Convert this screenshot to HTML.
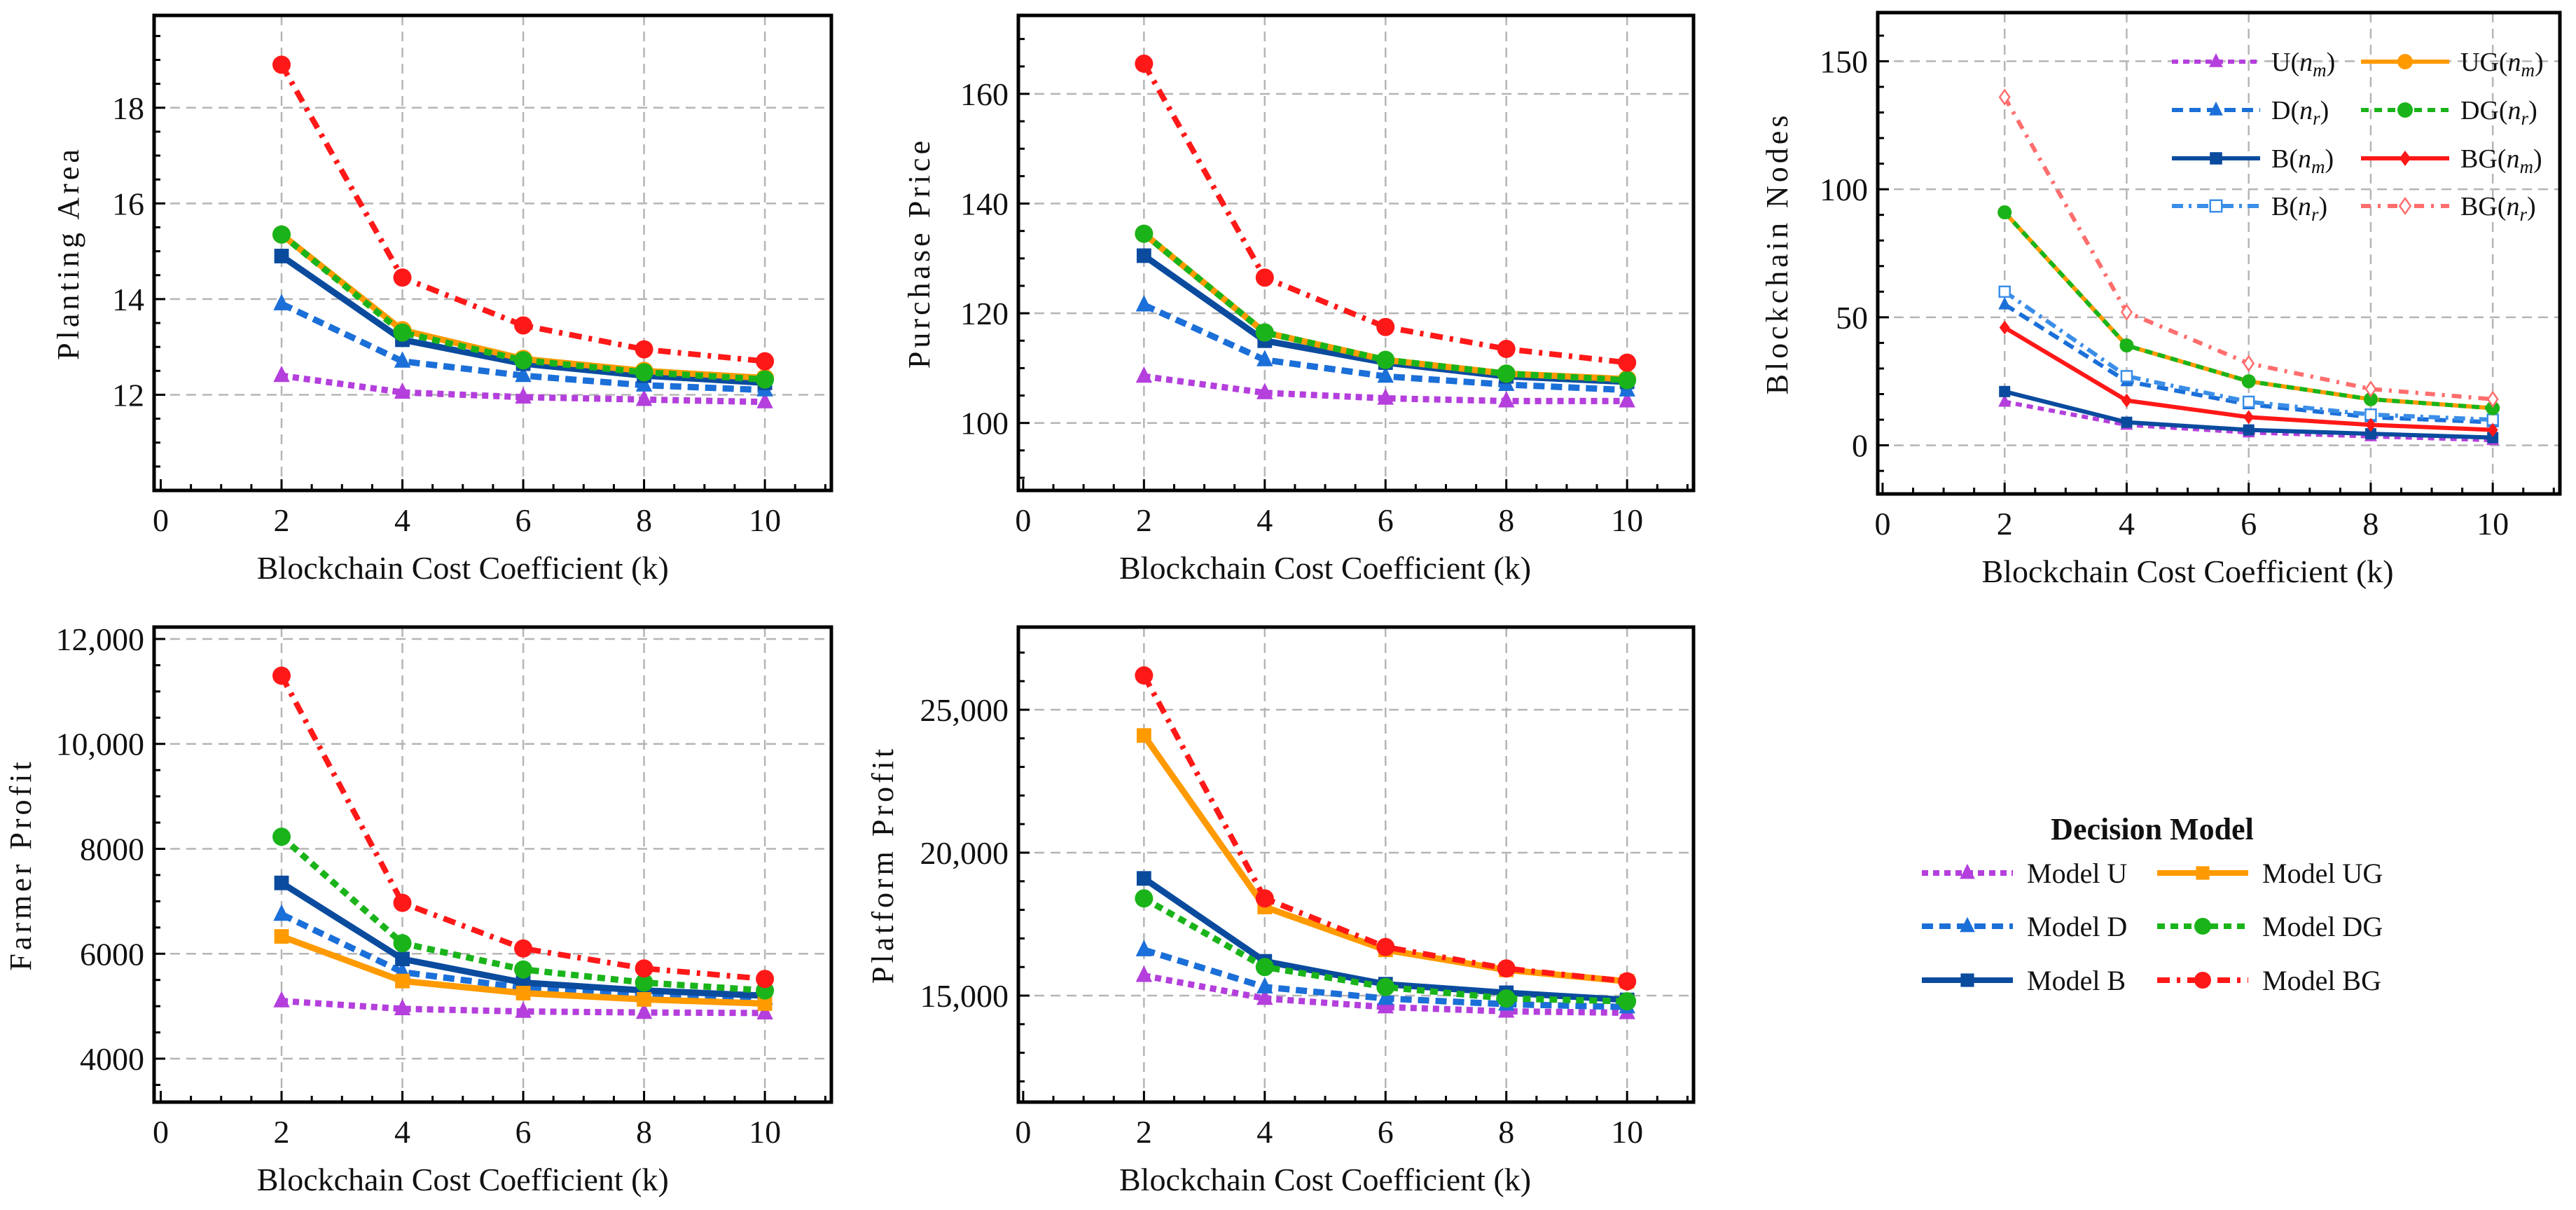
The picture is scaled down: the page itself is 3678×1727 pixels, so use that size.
<!DOCTYPE html>
<html><head><meta charset="utf-8"><style>
html,body{margin:0;padding:0;background:#fff;}
svg{display:block;font-family:"Liberation Serif",serif;}
</style></head><body>
<svg id="chart" width="3678" height="1727" viewBox="0 0 3678 1727" xmlns="http://www.w3.org/2000/svg"></svg>
<script>
const kValues=[2,4,6,8,10];
const xTickLabels=[0,2,4,6,8,10];
// Planting area
const areaU=[12.4,12.05,11.95,11.9,11.85];
const areaD=[13.9,12.7,12.4,12.2,12.1];
const areaB=[14.9,13.15,12.65,12.4,12.25];
const areaUG=[15.35,13.35,12.75,12.5,12.35];
const areaDG=[15.35,13.3,12.72,12.47,12.32];
const areaBG=[18.9,14.45,13.45,12.95,12.7];
const areaTicks=[12,14,16,18];
// Purchase price
const priceU=[108.5,105.5,104.5,104,104];
const priceD=[121.5,111.5,108.5,107,106];
const priceB=[130.5,115,111,108.5,107.5];
const priceUG=[134.5,116.5,111.5,109,108];
const priceDG=[134.5,116.5,111.5,109,107.8];
const priceBG=[165.5,126.5,117.5,113.5,111];
const priceTicks=[100,120,140,160];
// Blockchain nodes
const nodesUm=[17,8,5,3.5,2];
const nodesDr=[55,25,16,11,9];
const nodesBm=[21,9,6,4.5,3];
const nodesBr=[60,27,17,12,10];
const nodesUGm=[91,39,25,18,14.5];
const nodesDGr=[91,39,25,18,14.5];
const nodesBGm=[46,17.5,11,8,6];
const nodesBGr=[136,52,32,22,18];
const nodeTicks=[0,50,100,150];
// Farmer profit
const farmU=[5100,4950,4900,4880,4870];
const farmD=[6750,5650,5350,5200,5150];
const farmB=[7350,5900,5450,5300,5200];
const farmUG=[6330,5480,5250,5130,5050];
const farmDG=[8230,6200,5700,5450,5300];
const farmBG=[11300,6970,6100,5720,5520];
const farmTicks=[4000,6000,8000,10000,12000];
const farmTickLabels=["4000","6000","8000","10,000","12,000"];
// Platform profit
const platU=[15700,14900,14600,14450,14400];
const platD=[16600,15300,14900,14700,14600];
const platB=[19100,16200,15400,15100,14850];
const platUG=[24100,18100,16600,15900,15500];
const platDG=[18400,16000,15300,14900,14800];
const platBG=[26200,18400,16700,15950,15500];
const platTicks=[15000,20000,25000];
const platTickLabels=["15,000","20,000","25,000"];

const NS="http://www.w3.org/2000/svg";
const svg=document.getElementById('chart');
function mk(tag,attrs,parent){const e=document.createElementNS(NS,tag);for(const k in attrs)e.setAttribute(k,attrs[k]);(parent||svg).appendChild(e);return e;}

const ST={
 U:{c:'#b43fdc',w:9,d:'9 7',m:'tri'},
 D:{c:'#1b6fd8',w:9,d:'16 9',m:'tri'},
 B:{c:'#0a4b9e',w:9,d:'',m:'sq'},
 UG:{c:'#ff9a00',w:9,d:'',m:'circ'},
 DG:{c:'#1ab41a',w:9,d:'11 8',m:'circ'},
 BG:{c:'#ff1818',w:8,d:'18 10 5 10',m:'circ'},
 Br:{c:'#3b8ee8',w:6,d:'16 8 4 8',m:'osq'},
 BGm:{c:'#ff1818',w:6,d:'',m:'dia'},
 BGr:{c:'#ff6e6e',w:5,d:'14 10 4 10',m:'odia'}
};

function marker(g,type,x,y,s,c){
 let e;
 if(type==='circ')e=mk('circle',{cx:x,cy:y,r:s,fill:c},g);
 else if(type==='tri')e=mk('polygon',{points:`${x},${y-s*1.1} ${x-s*0.9},${y+s*0.7} ${x+s*0.9},${y+s*0.7}`,fill:c},g);
 else if(type==='sq')e=mk('rect',{x:x-s*0.8,y:y-s*0.8,width:s*1.6,height:s*1.6,fill:c},g);
 else if(type==='osq')e=mk('rect',{x:x-s*0.75,y:y-s*0.75,width:s*1.5,height:s*1.5,fill:'#fff',stroke:c,'stroke-width':2.5},g);
 else if(type==='dia')e=mk('polygon',{points:`${x},${y-s} ${x+s*0.75},${y} ${x},${y+s} ${x-s*0.75},${y}`,fill:c},g);
 else if(type==='odia')e=mk('polygon',{points:`${x},${y-s} ${x+s*0.7},${y} ${x},${y+s} ${x-s*0.7},${y}`,fill:'#fff',stroke:c,'stroke-width':2.5},g);
 return e;
}

function panel(p){
 const g=mk('g',{});
 
 
 const X=v=>p.l+(v-p.xmin)/(p.xmax-p.xmin)*(p.r-p.l);
 const Y=v=>p.b-(v-p.ymin)/(p.ymax-p.ymin)*(p.b-p.t);
 const grid=mk('g',{},g);
 
 
 kValues.forEach(k=>mk('line',{x1:X(k),x2:X(k),y1:p.t,y2:p.b,stroke:'#b5b5b5','stroke-width':2.5,'stroke-dasharray':'14 9'},grid));
 p.yticks.forEach(v=>mk('line',{x1:p.l,x2:p.r,y1:Y(v),y2:Y(v),stroke:'#b5b5b5','stroke-width':2.5,'stroke-dasharray':'14 9'},grid));
 for(let v=0;v<=p.xmax;v+=0.5){const big=(v%2===0);mk('line',{x1:X(v),x2:X(v),y1:p.b,y2:p.b-(big?16:9),stroke:'#000','stroke-width':3},g);}
 const st=p.yminor;let v0=Math.ceil(p.ymin/st)*st;
 for(let v=v0;v<=p.ymax;v+=st){const big=p.yticks.some(t=>Math.abs(t-v)<1e-6);mk('line',{x1:p.l,x2:p.l+(big?16:9),y1:Y(v),y2:Y(v),stroke:'#000','stroke-width':3},g);}
 const fr=mk('rect',{x:p.l,y:p.t,width:p.r-p.l,height:p.b-p.t,fill:'none',stroke:'#000','stroke-width':5},g);
 
 
 xTickLabels.forEach(v=>{const t=mk('text',{x:X(v),y:p.b+58,'font-size':46,'text-anchor':'middle',fill:'#111'},g);t.textContent=v;
  
  });
 p.yticks.forEach((v,i)=>{const t=mk('text',{x:p.l-14,y:Y(v)+16,'font-size':46,'text-anchor':'end',fill:'#111'},g);t.textContent=p.ylabels?p.ylabels[i]:v;
  
  });
 const xt=mk('text',{x:(X(0)+X(10))/2,y:p.b+126,'font-size':46,'text-anchor':'middle',fill:'#111'},g);
 xt.textContent='Blockchain Cost Coefficient (k)';
 
 
 const yc=(p.t+p.b)/2;
 const yt=mk('text',{x:p.ylx,y:yc,'font-size':44,'text-anchor':'middle','letter-spacing':5,fill:'#111',transform:`rotate(-90 ${p.ylx} ${yc})`},g);
 yt.textContent=p.ytitle;
 
 
 p.series.forEach(s=>{
  const sg=mk('g',{},g);
  
  
  const sty=ST[s.st];
  const pts=kValues.map((k,i)=>X(k)+','+Y(s.v[i])).join(' ');
  const pl=mk('polyline',{points:pts,fill:'none',stroke:sty.c,'stroke-width':(p.lw||sty.w),'stroke-dasharray':sty.d,'stroke-linejoin':'round'},sg);
  
  
  kValues.forEach((k,i)=>{const m=marker(sg,s.m||sty.m,X(k),Y(s.v[i]),p.ms,sty.c);
   
   });
 });
 return {X,Y,g};
}

const xmin=-0.11,xmax=11.1;
panel({name:'planting-area-chart',l:220,r:1187,t:22,b:700,xmin,xmax,ymin:10,ymax:19.93,yticks:areaTicks,yminor:0.5,ytitle:'Planting Area',ylx:112,ms:13,
 series:[{id:'U',st:'U',v:areaU},{id:'D',st:'D',v:areaD},{id:'B',st:'B',v:areaB},{id:'UG',st:'UG',v:areaUG},{id:'DG',st:'DG',v:areaDG},{id:'BG',st:'BG',v:areaBG}]});
panel({name:'purchase-price-chart',l:1454,r:2418,t:22,b:700,xmin:-0.08,xmax,ymin:87.7,ymax:174.3,yticks:priceTicks,yminor:5,ytitle:'Purchase Price',ylx:1327,ms:13,
 series:[{id:'U',st:'U',v:priceU},{id:'D',st:'D',v:priceD},{id:'B',st:'B',v:priceB},{id:'UG',st:'UG',v:priceUG},{id:'DG',st:'DG',v:priceDG},{id:'BG',st:'BG',v:priceBG}]});
panel({name:'blockchain-nodes-chart',l:2681,r:3655,t:18,b:705,xmin:-0.08,xmax,ymin:-19,ymax:169,yticks:nodeTicks,yminor:10,ytitle:'Blockchain Nodes',ylx:2552,ms:10,lw:6,
 series:[{id:'U-nm',st:'U',v:nodesUm},{id:'D-nr',st:'D',v:nodesDr},{id:'B-nm',st:'B',v:nodesBm},{id:'B-nr',st:'Br',v:nodesBr},{id:'UG-nm',st:'UG',v:nodesUGm},{id:'DG-nr',st:'DG',v:nodesDGr},{id:'BG-nm',st:'BGm',v:nodesBGm},{id:'BG-nr',st:'BGr',v:nodesBGr}]});
panel({name:'farmer-profit-chart',l:220,r:1187,t:895,b:1573,xmin,xmax,ymin:3172,ymax:12227,yticks:farmTicks,ylabels:farmTickLabels,yminor:500,ytitle:'Farmer Profit',ylx:44,ms:13,
 series:[{id:'U',st:'U',v:farmU},{id:'D',st:'D',v:farmD},{id:'B',st:'B',v:farmB},{id:'UG',st:'UG',v:farmUG,m:'sq'},{id:'DG',st:'DG',v:farmDG},{id:'BG',st:'BG',v:farmBG}]});
panel({name:'platform-profit-chart',l:1454,r:2418,t:895,b:1573,xmin:-0.08,xmax,ymin:11275,ymax:27892,yticks:platTicks,ylabels:platTickLabels,yminor:1000,ytitle:'Platform Profit',ylx:1275,ms:13,
 series:[{id:'U',st:'U',v:platU},{id:'D',st:'D',v:platD},{id:'B',st:'B',v:platB},{id:'UG',st:'UG',v:platUG,m:'sq'},{id:'DG',st:'DG',v:platDG},{id:'BG',st:'BG',v:platBG}]});

const nl=mk('g',{});


const nodeLegend=[
 ['U','m','U',3101,88,'tri'],['UG','m','UG',3371,88,'circ'],
 ['D','r','D',3101,157,'tri'],['DG','r','DG',3371,157,'circ'],
 ['B','m','B',3101,226,'sq'],['BG','m','BGm',3371,226,'dia'],
 ['B','r','Br',3101,294,'osq'],['BG','r','BGr',3371,294,'odia']];
nodeLegend.forEach(e=>{
 const [lab,sub,st,x,y,m]=e;const s=ST[st];
 const eg=mk('g',{},nl);
 
 
 mk('line',{x1:x,x2:x+126,y1:y,y2:y,stroke:s.c,'stroke-width':6,'stroke-dasharray':s.d},eg);
 marker(eg,m,x+63,y,11,s.c);
 const t=mk('text',{x:x+142,y:y+13,'font-size':38,fill:'#111'},eg);
 t.appendChild(document.createTextNode(lab+'('));
 const n=mk('tspan',{'font-style':'italic'},t);n.textContent='n';
 const sb=mk('tspan',{'font-style':'italic','font-size':27,dy:8},t);sb.textContent=sub;
 const cl=mk('tspan',{dy:-8},t);cl.textContent=')';
});

const dl=mk('g',{});


const tt=mk('text',{x:3073,y:1198,'font-size':44,'font-weight':'bold','text-anchor':'middle',fill:'#111'},dl);
tt.textContent='Decision Model';


const modelLegend=[['Model U','U',2744,1246,'tri'],['Model UG','UG',3080,1246,'sq'],['Model D','D',2744,1322,'tri'],['Model DG','DG',3080,1322,'circ'],['Model B','B',2744,1399,'sq'],['Model BG','BG',3080,1399,'circ']];
modelLegend.forEach(e=>{
 const [lab,st,x,y,m]=e;const s=ST[st];
 const eg=mk('g',{},dl);
 
 
 mk('line',{x1:x,x2:x+130,y1:y,y2:y,stroke:s.c,'stroke-width':8,'stroke-dasharray':s.d},eg);
 marker(eg,m,x+65,y,12,s.c);
 const t=mk('text',{x:x+150,y:y+14,'font-size':40,fill:'#111'},eg);t.textContent=lab;
});
</script>
</body></html>
